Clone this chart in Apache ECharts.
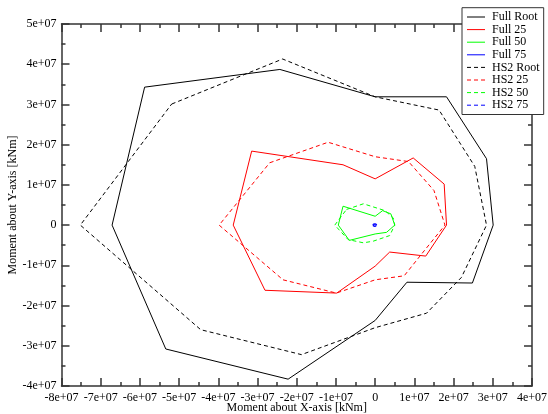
<!DOCTYPE html>
<html>
<head>
<meta charset="utf-8">
<script src="https://cdn.jsdelivr.net/npm/echarts@6/dist/echarts.min.js"></script>
<style>
html,body{margin:0;padding:0;background:#fff;}
#chart{width:548px;height:414px;}
</style>
</head>
<body>
<div id="chart"></div>
<script>
// Axis ranges / ticks
const xMin = -8e7, xMax = 4e7, xStep = 1e7;
const yMin = -4e7, yMax = 5e7, yStep = 1e7;
const xName = 'Moment about X-axis [kNm]';
const yName = 'Moment about Y-axis [kNm]';
const seriesNames = ['Full Root','Full 25','Full 50','Full 75','HS2 Root','HS2 25','HS2 50','HS2 75'];

// Polygon vertices [Mx, My] (closed: first point repeated at end)
const fullRoot = [[-5.88e7,3.43e7],[-2.43e7,3.87e7],[0,3.19e7],[1.82e7,3.19e7],[2.84e7,1.65e7],[3.01e7,0],[2.48e7,-1.44e7],[0.81e7,-1.42e7],[0,-2.37e7],[-2.22e7,-3.83e7],[-5.34e7,-3.08e7],[-6.71e7,0],[-5.88e7,3.43e7]];
const full25 = [[-3.15e7,1.84e7],[-0.82e7,1.5e7],[0,1.15e7],[0.97e7,1.67e7],[1.76e7,1.02e7],[1.82e7,0],[1.29e7,-0.77e7],[0.37e7,-0.67e7],[0,-1.02e7],[-0.98e7,-1.69e7],[-2.81e7,-1.62e7],[-3.62e7,0],[-3.15e7,1.84e7]];
const full50 = [[-0.82e7,0.47e7],[0,0.22e7],[0.19e7,0.36e7],[0.4e7,0.28e7],[0.5e7,0],[0.29e7,-0.18e7],[0,-0.22e7],[-0.66e7,-0.38e7],[-0.94e7,0],[-0.82e7,0.47e7]];
const full75 = [[-0.05e7,0.02e7],[0,0.03e7],[0.04e7,0.02e7],[0.06e7,0],[0.04e7,-0.02e7],[0,-0.03e7],[-0.05e7,-0.02e7],[-0.06e7,0],[-0.05e7,0.02e7]];
const hs2Root = [[-5.19e7,3.01e7],[-2.36e7,4.13e7],[0,3.19e7],[1.63e7,2.86e7],[2.54e7,1.46e7],[2.84e7,0],[2.2e7,-1.3e7],[1.31e7,-2.19e7],[0,-2.55e7],[-1.88e7,-3.22e7],[-4.45e7,-2.6e7],[-7.52e7,0],[-5.19e7,3.01e7]];
const hs2_25 = [[-2.69e7,1.55e7],[-1.2e7,2.06e7],[0,1.7e7],[0.85e7,1.58e7],[1.5e7,0.86e7],[1.78e7,0],[1.2e7,-0.7e7],[0.74e7,-1.26e7],[0,-1.36e7],[-0.99e7,-1.69e7],[-2.35e7,-1.36e7],[-3.98e7,0],[-2.69e7,1.55e7]];
const hs2_50 = [[-0.73e7,0.39e7],[-0.3e7,0.53e7],[0.25e7,0.36e7],[0.46e7,0.18e7],[0.5e7,0],[0.37e7,-0.26e7],[-0.05e7,-0.4e7],[-0.3e7,-0.44e7],[-0.69e7,-0.36e7],[-1.03e7,0],[-0.73e7,0.39e7]];
const hs2_75 = [[-0.06e7,0.02e7],[0,0.035e7],[0.05e7,0.02e7],[0.07e7,0],[0.05e7,-0.02e7],[0,-0.035e7],[-0.06e7,-0.02e7],[-0.07e7,0],[-0.06e7,0.02e7]];

const seriesData = [fullRoot, full25, full50, full75, hs2Root, hs2_25, hs2_50, hs2_75];
const colors = ['#000000','#ff0000','#00ff00','#0000ff','#000000','#ff0000','#00ff00','#0000ff'];
const dashed = [false,false,false,false,true,true,true,true];

const FONT = 'Liberation Serif';
const axisCol = '#333';
function fmt(v){ if (Math.abs(v) < 1) return '0'; return (Math.round(v/1e7)) + 'e+07'; }

function xAx(pos, showLabel){
  return {
    type:'value', position:pos, min:xMin, max:xMax, interval:xStep,
    name: showLabel ? xName : '', nameLocation:'middle', nameGap:16, nameMoveOverlap:false,
    nameTextStyle:{fontFamily:FONT,fontSize:12,color:'#000'},
    axisLine:{show:true,onZero:false,lineStyle:{color:axisCol,width:1.5}},
    axisTick:{show:true,inside:true,length:8,lineStyle:{color:axisCol,width:1.5}},
    minorTick:{show:true,splitNumber:2,length:4,lineStyle:{color:axisCol,width:1.5}},
    axisLabel:{show:showLabel,formatter:fmt,fontFamily:FONT,fontSize:12,color:'#000',margin:6},
    splitLine:{show:false}
  };
}
function yAx(pos, showLabel){
  return {
    type:'value', position:pos, min:yMin, max:yMax, interval:yStep,
    name: showLabel ? yName : '', nameLocation:'middle', nameGap:43, nameMoveOverlap:false,
    nameTextStyle:{fontFamily:FONT,fontSize:12,color:'#000'},
    axisLine:{show:true,onZero:false,lineStyle:{color:axisCol,width:1.5}},
    axisTick:{show:true,inside:true,length:8,lineStyle:{color:axisCol,width:1.5}},
    minorTick:{show:true,splitNumber:2,length:4,lineStyle:{color:axisCol,width:1.5}},
    axisLabel:{show:showLabel,formatter:fmt,fontFamily:FONT,fontSize:12,color:'#000',margin:5},
    splitLine:{show:false}
  };
}

const chart = echarts.init(document.getElementById('chart'), null, {renderer:'canvas'});
chart.setOption({
  animation:false,
  backgroundColor:'#fff',
  grid:{left:61.5,right:16,top:24,bottom:28,containLabel:false,outerBoundsMode:'none'},
  xAxis:[xAx('bottom',true), xAx('top',false)],
  yAxis:[yAx('left',true), yAx('right',false)],
  legend:{
    show:true,
    orient:'vertical', left:462, top:7.7,
    backgroundColor:'#fff', borderColor:'#333', borderWidth:1,
    padding:[3,4,3,4.5], itemGap:0, itemWidth:18, itemHeight:8,
    itemStyle:{opacity:0},
    lineStyle:{width:1},
    textStyle:{fontFamily:FONT,fontSize:12,color:'#000',lineHeight:12.6,padding:[0,0,0,2]},
    data: seriesNames
  },
  series: seriesNames.map((n,i)=>({
    name:n, type:'line', xAxisIndex:0, yAxisIndex:0,
    data: seriesData[i], symbol:'none', smooth:false,
    color: colors[i],
    lineStyle:{color:colors[i], width:1, type: dashed[i] ? [4,3] : 'solid'},
    z: 2
  }))
});
</script>
</body>
</html>
